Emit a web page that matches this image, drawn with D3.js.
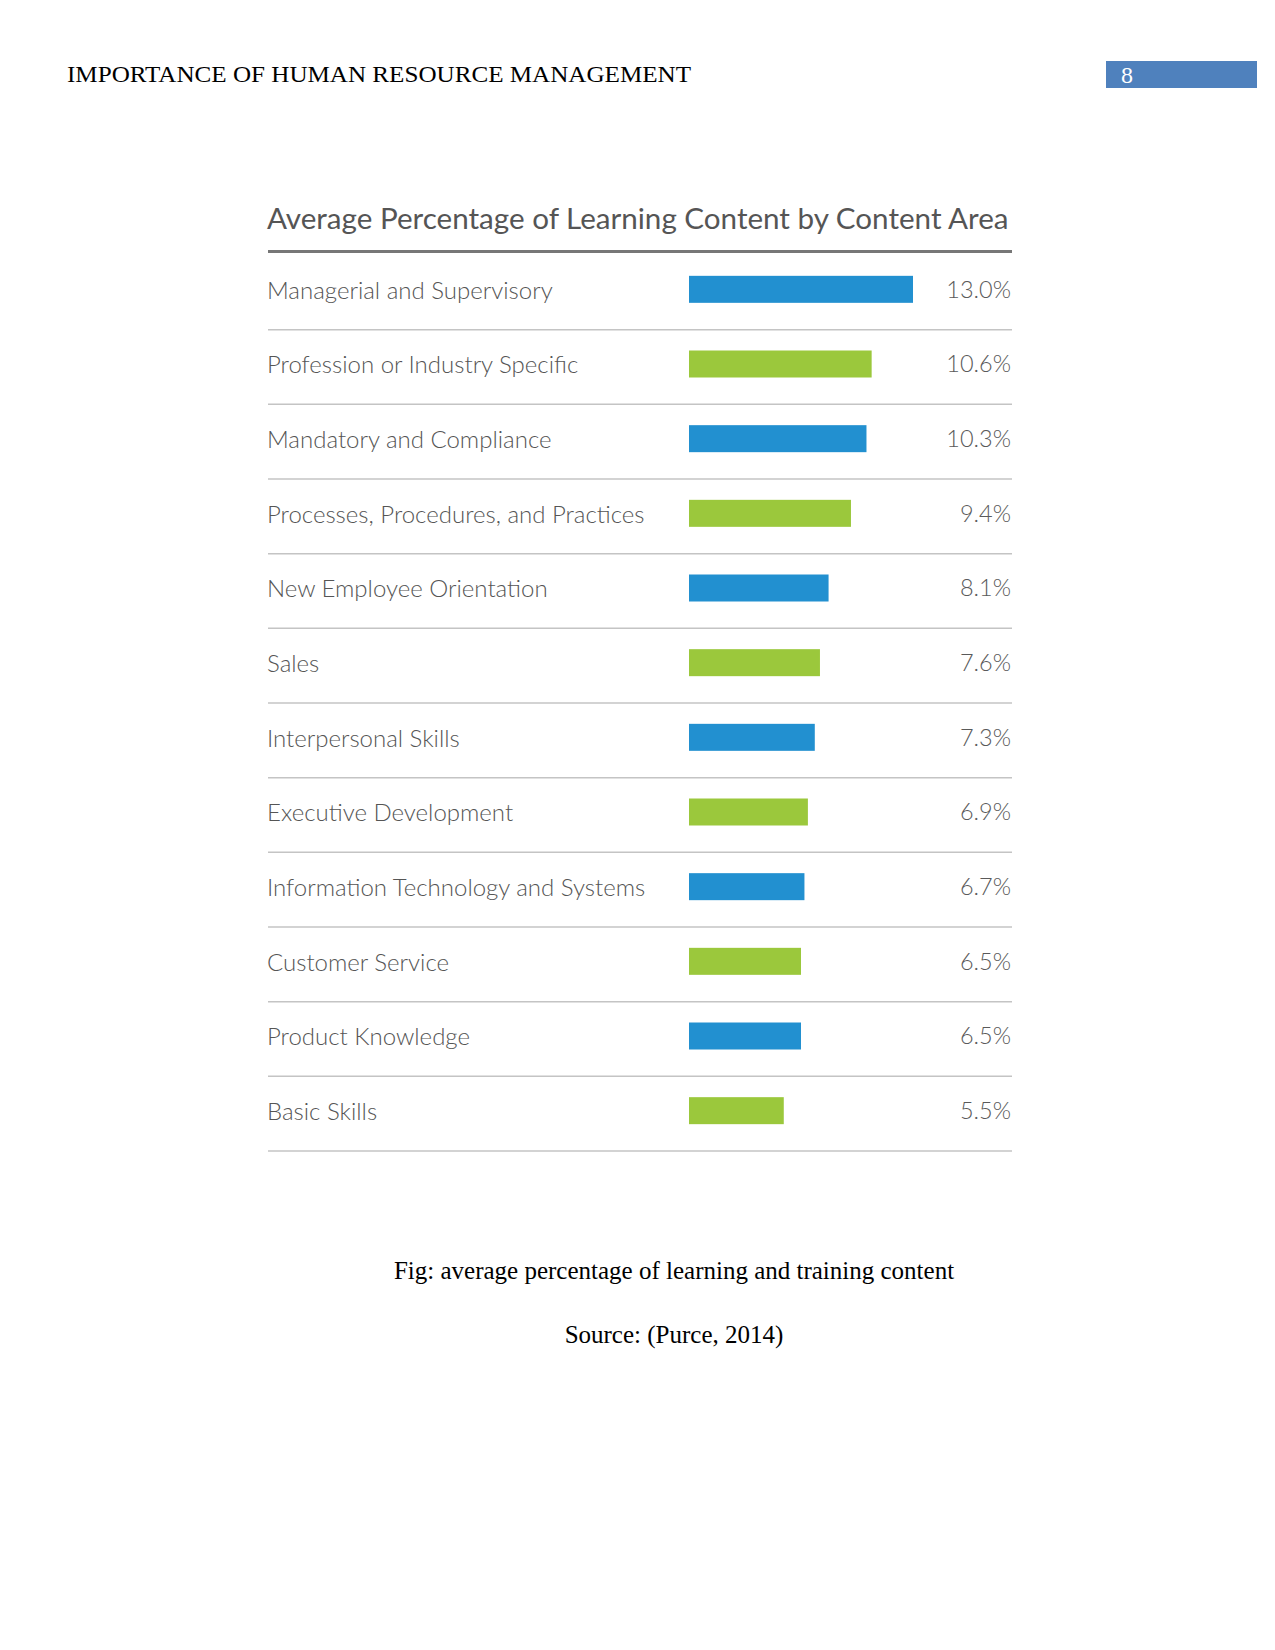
<!DOCTYPE html>
<html>
<head>
<meta charset="utf-8">
<script src="https://cdn.jsdelivr.net/npm/d3@7"></script>
<style>
  body { margin: 0; background: #fff; }
  svg { display: block; }
</style>
</head>
<body>
<svg id="chart" width="1275" height="1650"></svg>
<script>
// ---- data ----
const categories = [
  "Managerial and Supervisory",
  "Profession or Industry Specific",
  "Mandatory and Compliance",
  "Processes, Procedures, and Practices",
  "New Employee Orientation",
  "Sales",
  "Interpersonal Skills",
  "Executive Development",
  "Information Technology and Systems",
  "Customer Service",
  "Product Knowledge",
  "Basic Skills"
];
const values = [13.0, 10.6, 10.3, 9.4, 8.1, 7.6, 7.3, 6.9, 6.7, 6.5, 6.5, 5.5];
const valueLabels = ["13.0%", "10.6%", "10.3%", "9.4%", "8.1%", "7.6%", "7.3%", "6.9%", "6.7%", "6.5%", "6.5%", "5.5%"];
const barColors = ["#2290d0", "#9bc83c"];

const headerText = "IMPORTANCE OF HUMAN RESOURCE MANAGEMENT";
const pageNumber = "8";
const chartTitle = "Average Percentage of Learning Content by Content Area";
const captionText = "Fig: average percentage of learning and training content";
const sourceText = "Source: (Purce, 2014)";

// ---- drawing ----
const svg = d3.select("#chart");

// page header
svg.append("text")
  .attr("x", 67).attr("y", 82)
  .attr("font-family", "'Liberation Serif', 'Times New Roman', serif")
  .attr("font-size", 24)
  .attr("textLength", 624).attr("lengthAdjust", "spacingAndGlyphs")
  .attr("fill", "#000")
  .text(headerText);

svg.append("rect")
  .attr("x", 1106).attr("y", 61).attr("width", 151).attr("height", 27)
  .attr("fill", "#4f81bd");
svg.append("text")
  .attr("x", 1121).attr("y", 83)
  .attr("font-family", "'Liberation Serif', 'Times New Roman', serif")
  .attr("font-size", 24)
  .attr("fill", "#fff")
  .text(pageNumber);

// chart title
const left = 268, right = 1012;
svg.append("text")
  .attr("x", 267).attr("y", 229)
  .attr("font-family", "Lato, 'Open Sans', sans-serif")
  .attr("font-size", 29.6)
  .attr("fill", "#555")
  .text(chartTitle);
svg.append("line")
  .attr("x1", left).attr("x2", right)
  .attr("y1", 251.5).attr("y2", 251.5)
  .attr("stroke", "#777").attr("stroke-width", 3);

// scales
const y = d3.scaleBand()
  .domain(categories)
  .range([255, 1151])
  .paddingInner(0).paddingOuter(0);

const barX0 = 689;
const x = d3.scaleLinear()
  .domain([0, 13])
  .range([barX0, barX0 + 224]);

const barH = 27;

const rows = svg.append("g").selectAll("g")
  .data(categories)
  .join("g")
  .attr("transform", d => `translate(0,${y(d)})`);

// separators
rows.append("line")
  .attr("x1", left).attr("x2", right)
  .attr("y1", y.bandwidth()).attr("y2", y.bandwidth())
  .attr("stroke", "#c4c4c4").attr("stroke-width", 1.5);

// labels
rows.append("text")
  .attr("x", 267)
  .attr("y", y.bandwidth() / 2 - 2)
  .attr("dy", "0.35em")
  .attr("font-family", "Lato, 'Open Sans', sans-serif")
  .attr("font-weight", 300)
  .attr("font-size", 24)
  .attr("fill", "#555")
  .text(d => d);

// bars
rows.append("rect")
  .attr("x", x(0))
  .attr("y", y.bandwidth() / 2 - barH / 2 - 3)
  .attr("width", (d, i) => x(values[i]) - x(0))
  .attr("height", barH)
  .attr("fill", (d, i) => barColors[i % 2]);

// value labels
rows.append("text")
  .attr("x", 1011)
  .attr("y", y.bandwidth() / 2 - 3)
  .attr("dy", "0.35em")
  .attr("text-anchor", "end")
  .attr("font-family", "Lato, 'Open Sans', sans-serif")
  .attr("font-weight", 300)
  .attr("font-size", 23.5)
  .attr("fill", "#5a5a5a")
  .text((d, i) => valueLabels[i]);

// caption
svg.append("text")
  .attr("x", 674).attr("y", 1279)
  .attr("text-anchor", "middle")
  .attr("font-family", "'Liberation Serif', 'Times New Roman', serif")
  .attr("font-size", 25)
  .attr("fill", "#000")
  .text(captionText);
svg.append("text")
  .attr("x", 674).attr("y", 1343)
  .attr("text-anchor", "middle")
  .attr("font-family", "'Liberation Serif', 'Times New Roman', serif")
  .attr("font-size", 25)
  .attr("fill", "#000")
  .text(sourceText);
</script>
</body>
</html>
